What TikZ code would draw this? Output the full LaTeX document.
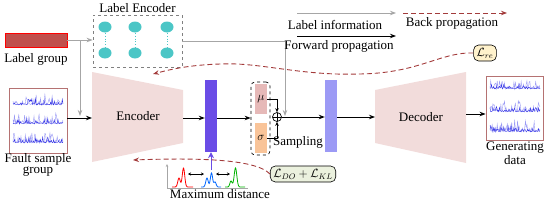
\documentclass[tikz,border=0pt]{standalone}
\usepackage{fontspec}
\setmainfont{Liberation Serif}
\usetikzlibrary{arrows.meta,calc,shapes.geometric}
\definecolor{lgred}{HTML}{C0504D}
\definecolor{encpink}{HTML}{F2DCDB}
\definecolor{barA}{HTML}{6A4CE6}
\definecolor{barB}{HTML}{9C9AF5}
\definecolor{mucol}{HTML}{E6B9B8}
\definecolor{sgcol}{HTML}{F9C499}
\definecolor{bpred}{HTML}{A33B3B}
\definecolor{lgray}{HTML}{A6A6A6}
\definecolor{tealc}{HTML}{4BC6C6}
\definecolor{boxbrown}{HTML}{B57272}
\definecolor{sigblue}{HTML}{3030E6}
\definecolor{siglight}{HTML}{9A9AF5}
\definecolor{lossy}{HTML}{FFF2CC}
\definecolor{lossg}{HTML}{EBF1DE}
\newcommand{\sigtrace}[4]{%
  \draw[siglight, line width=0.4pt] plot[domain=#1:#2, samples=70] (\x, {#3 - 1.5*rnd - #4*pow(rnd,3)});
  \draw[sigblue, line width=0.4pt] plot[domain=#1:#2, samples=70] (\x, {#3 - 1*rnd - 0.55*#4*pow(rnd,4)});
}
\begin{document}
\begin{tikzpicture}[x=1pt,y=-1pt,
  txt/.style={font=\fontsize{13}{14}\selectfont, inner sep=0pt},
  tipA/.style={-{Stealth[length=6pt,width=4.5pt]}},
  garrow/.style={draw=lgray, line width=1pt, tipA},
  barrow/.style={draw=black, line width=1pt, tipA},
  bparrow/.style={draw=bpred, line width=0.9pt, dash pattern=on 5pt off 3pt, tipA},
  barnode/.style={minimum width=12pt, minimum height=72pt, inner sep=0pt},
  sigbox/.style={draw=boxbrown, line width=0.8pt, fill=white, inner sep=0pt},
  neuron/.style={ellipse, fill=tealc, minimum width=13pt, minimum height=11pt, inner sep=0pt},
  lossbox/.style={draw=black, line width=0.6pt, rounded corners=5pt, inner sep=3pt, font=\fontsize{12}{13}\selectfont}
]
\useasboundingbox (0,0) rectangle (550,201);

% ---------- Label group ----------
\node[draw=red, fill=lgred, line width=0.6pt, minimum width=62pt, minimum height=14pt, inner sep=0pt] (lg) at (36,40) {};
\node[txt] (lgt) at (36,59) {Label group};

% ---------- Label encoder ----------
\node[draw=gray, dashed, line width=0.8pt, minimum width=89pt, minimum height=52pt, inner sep=0pt] (le) at (137.5,41) {};
\node[txt] (let) at (137.5,8) {Label Encoder};
\foreach \c/\xx in {1/105,2/135,3/167}{
  \node[neuron] (t\c) at (\xx,27) {};
  \node[neuron] (b\c) at (\xx,53) {};
  \draw[tealc, line width=0.9pt, dotted] (t\c.south) -- (b\c.north);
}

% ---------- Fault sample group ----------
\node[sigbox, minimum width=58pt, minimum height=65pt] (fb) at (38,120.5) {};
\pgfmathsetseed{11}
\sigtrace{13}{63}{105}{10}
\sigtrace{13}{63}{124}{10}
\sigtrace{13}{63}{143}{9}
\node[txt] (fbt1) at (38,159) {Fault sample};
\node[txt] (fbt2) at (38,172) {group};

% ---------- Encoder ----------
\fill[encpink] (92,72) -- (183,90) -- (183,143) -- (92,162) -- cycle;
\node[txt] (enc) at (138,116) {Encoder};
\coordinate (encL) at (92,118);
\coordinate (encR) at (183,118);

% ---------- latent bars ----------
\node[barnode, fill=barA] (b1) at (211,116) {};
\node[draw, dashed, rounded corners=4pt, line width=0.7pt, minimum width=19pt, minimum height=73pt, inner sep=0pt] (zb) at (260.5,118.5) {};
\node[fill=mucol, minimum width=12pt, minimum height=30pt, inner sep=0pt, font=\fontsize{13}{14}\selectfont] (mu) at (261,99) {$\mu$};
\node[fill=sgcol, minimum width=12pt, minimum height=30pt, inner sep=0pt, font=\fontsize{13}{14}\selectfont] (sg) at (261,138) {$\sigma$};
\node[circle, draw, line width=0.7pt, minimum size=9pt, inner sep=0pt,
  path picture={\draw (path picture bounding box.west) -- (path picture bounding box.east);
                \draw (path picture bounding box.north) -- (path picture bounding box.south);}] (plus) at (277,117) {};
\node[txt] (samp) at (298,142) {Sampling};
\node[barnode, fill=barB] (b2) at (331,116) {};

% ---------- Decoder ----------
\fill[encpink] (375,90) -- (466,72) -- (466,163) -- (375,143) -- cycle;
\node[txt] (dec) at (421,117) {Decoder};
\coordinate (decL) at (375,117);
\coordinate (decR) at (466,114);

% ---------- Generating data ----------
\node[sigbox, minimum width=57pt, minimum height=64pt] (gb) at (514.5,108) {};
\pgfmathsetseed{7}
\sigtrace{490}{540}{89}{8}
\sigtrace{490}{540}{112}{10}
\sigtrace{490}{540}{132}{11}
\node[txt] (gbt1) at (515,148) {Generating};
\node[txt] (gbt2) at (515,160) {data};

% ---------- connectors ----------
\draw[garrow] (lg.east) -- (le.west |- lg.east);
\coordinate (j1) at (80,40);
\draw[garrow] (j1) -- (80,116);
\draw[barrow] (fb.east |- encL) -- (encL);
\draw[garrow] (le.east) -- (285,41) -- (285,116);
\draw[barrow] (encR) -- (b1.west |- encR);
\draw[barrow] (b1.east |- encR) -- (zb.west |- encR);
\draw[line width=0.8pt, -{Stealth[length=4pt,width=3.5pt]}] (mu.east) -| (plus.north);
\draw[line width=0.8pt, -{Stealth[length=4pt,width=3.5pt]}] (sg.east) -| (plus.south);
\draw[barrow] (plus.east) -- (b2.west |- plus.east);
\draw[barrow] (b2.east |- decL) -- (decL);
\draw[barrow] (decR) -- (gb.west |- decR);

% ---------- legend ----------
\coordinate (l1a) at (297,13); \coordinate (l1b) at (396,13);
\coordinate (l2a) at (297,36); \coordinate (l2b) at (396,36);
\coordinate (l3a) at (403,13); \coordinate (l3b) at (507,13);
\draw[garrow] (l1a) -- (l1b);
\draw[barrow] (l2a) -- (l2b);
\draw[bparrow] (l3a) -- (l3b);
\node[txt] (lt1) at (335,25) {Label information};
\node[txt] (lt2) at (339,46) {Forward  propagation};
\node[txt] (lt3) at (452,23) {Back propagation};

% ---------- reconstruction loss ----------
\node[lossbox, fill=lossy] (lre) at (485,53) {$\mathcal{L}_{re}$};
\coordinate (bpEnd) at (153,74);
\draw[bparrow] (lre.west) .. controls (440,52) and (420,73) .. (360,74)
  .. controls (300,76) and (260,62) .. (220,64)
  .. controls (190,65) and (172,69) .. (bpEnd);

% ---------- distributions ----------
\draw[lgray, line width=0.5pt, -{Stealth[length=3pt,width=2.5pt]}] (167,188) -- (167,164);
\draw[lgray, line width=0.5pt] (167,188) -- (248,188);
\draw[red, line width=0.8pt] plot[domain=172:193, samples=60, smooth] (\x, {187 - 19*exp(-((\x-183.5)^2)/3) - 9*exp(-((\x-179)^2)/3)});
\draw[blue!60!cyan, line width=0.8pt] plot[domain=201:221, samples=60, smooth] (\x, {187 - 14*exp(-((\x-211.5)^2)/2.5) - 9*exp(-((\x-207)^2)/3) - 5*exp(-((\x-215)^2)/2.5)});
\draw[green!70!black, line width=0.8pt] plot[domain=225:245, samples=60, smooth] (\x, {187 - 19*exp(-((\x-235.5)^2)/3.5) - 6*exp(-((\x-231)^2)/2.5)});
\coordinate (d1a) at (188,174); \coordinate (d1b) at (204,174);
\coordinate (d2a) at (216,174); \coordinate (d2b) at (230,174);
\draw[line width=0.6pt, {Stealth[length=3pt,width=3pt]}-{Stealth[length=3pt,width=3pt]}] (d1a) -- (d1b);
\draw[line width=0.6pt, {Stealth[length=3pt,width=3pt]}-{Stealth[length=3pt,width=3pt]}] (d2a) -- (d2b);
\node[txt] (maxd) at (220,194) {Maximum distance};
\coordinate (pa) at (211,170);
\draw[barA, line width=1pt, -{Stealth[length=6pt,width=6pt]}] (pa) -- (b1.south);

% ---------- DO + KL loss ----------
\node[lossbox, fill=lossg] (ldk) at (303,174) {$\mathcal{L}_{DO}+\mathcal{L}_{KL}$};
\coordinate (bp2End) at (133,160);
\draw[bparrow] (ldk.west) .. controls (255,158) and (190,158) .. (bp2End);
\end{tikzpicture}
\end{document}
